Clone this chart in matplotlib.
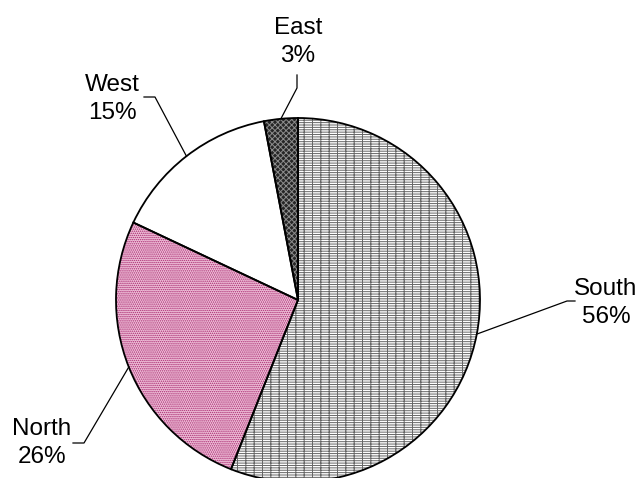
import numpy as np
import matplotlib
matplotlib.use("Agg")
import matplotlib.pyplot as plt
from matplotlib.patches import Wedge

# data
regions = ["South", "North", "West", "East"]
shares = [56, 26, 15, 3]

face = ["white", "#efc0d9", "white", "#262626"]
hatch_col = ["#666666", "#a8286e", "white", "#8c8c8c"]
hatches = ["-------||", "........", "", "xxxxxx"]

plt.rcParams['font.family'] = ['Liberation Sans', 'DejaVu Sans']
plt.rcParams['hatch.linewidth'] = 0.7

fig = plt.figure(figsize=(6.4, 4.78), dpi=100)
ax = fig.add_axes([0, 0, 1, 1])

H = 478
cx, cy, rad = 298, H - 300, 182

wedges, _ = ax.pie(shares, startangle=90, counterclock=False,
                   center=(cx, cy), radius=rad, colors=face,
                   wedgeprops=dict(linewidth=0))
for w, hc, h in zip(wedges, hatch_col, hatches):
    w.set_edgecolor(hc)
    w.set_hatch(h)
    w.set_linewidth(0)
    # black outline on top
    ax.add_patch(Wedge(w.center, w.r, w.theta1, w.theta2, fill=False,
                       edgecolor="black", linewidth=1.3, zorder=3))

# label layout: (text x, text y, elbow points) in image pixels
layout = {
    "South": (606, 303, [(567, 301), (575, 301)]),
    "North": (42, 443, [(84, 443), (73, 443)]),
    "West": (112, 99, [(155, 97), (144, 97)]),
    "East": (298, 42, [(297, 88), (297, 75)]),
}

for w, name, val in zip(wedges, regions, shares):
    mid = np.deg2rad((w.theta1 + w.theta2) / 2)
    sx = cx + rad * np.cos(mid)
    sy = cy + rad * np.sin(mid)
    tx, ty, pts = layout[name]
    xs = [sx] + [p[0] for p in pts]
    ys = [sy] + [H - p[1] for p in pts]
    ax.plot(xs, ys, color="black", linewidth=0.9, zorder=4)
    ax.text(tx, H - ty, f"{name}\n{val}%", ha="center", va="center",
            fontsize=17.5, linespacing=1.3, color="black")

ax.set_xlim(0, 640)
ax.set_ylim(0, H)
ax.set_aspect("equal")
ax.axis("off")

fig.savefig("out.png", dpi=100)
